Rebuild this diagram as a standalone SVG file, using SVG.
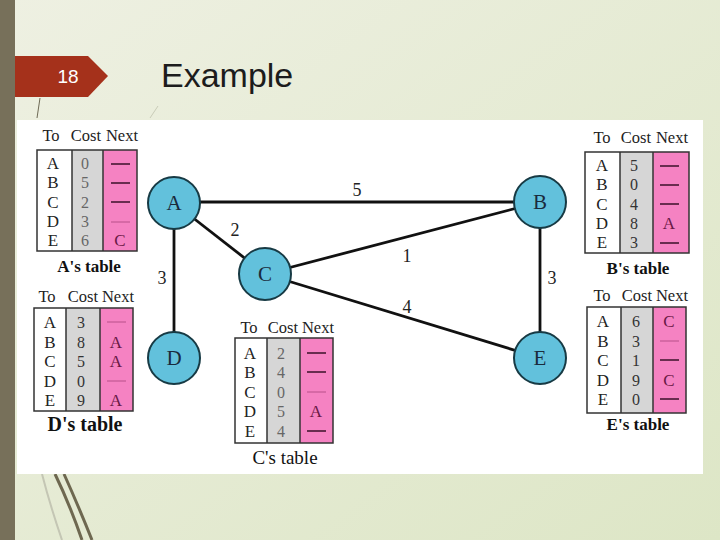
<svg xmlns="http://www.w3.org/2000/svg" width="720" height="540" viewBox="0 0 720 540">
<defs>
<linearGradient id="bg" x1="0" y1="0" x2="1" y2="1">
<stop offset="0" stop-color="#eef0e2"/>
<stop offset="1" stop-color="#dde6c6"/>
</linearGradient>
<style>
.hdr{font-family:"Liberation Serif","Times New Roman",serif;font-size:16.5px;fill:#222;text-anchor:middle}
.to{font-family:"Liberation Serif","Times New Roman",serif;font-size:17px;fill:#222;text-anchor:middle}
.cost{font-family:"Liberation Serif","Times New Roman",serif;font-size:16px;fill:#333;text-anchor:middle}
.lt{fill:#666}
.nx{font-family:"Liberation Serif","Times New Roman",serif;font-size:17px;fill:#6a1846;text-anchor:middle}
.dash{stroke:#3a1028;stroke-width:1.5}
.fdash{stroke:#b8508a;stroke-width:1}
.box{fill:none;stroke:#333;stroke-width:1.5}
.c1{fill:#ffffff}
.c2{fill:#d6d6d6}
.c3{fill:#f582c2}
.cl{stroke:#333;stroke-width:1.5}
.lbl{font-family:"Liberation Serif","Times New Roman",serif;font-size:17px;fill:#111;text-anchor:middle;font-weight:bold}
.node circle{fill:#62c1dc;stroke:#173a44;stroke-width:2}
.node text{font-family:"Liberation Serif","Times New Roman",serif;font-size:21px;fill:#1a2b3c;text-anchor:middle}
.edge{stroke:#111;stroke-width:2.8}
.w{font-family:"Liberation Serif","Times New Roman",serif;font-size:18px;fill:#222;text-anchor:middle}
</style>
</defs>
<rect x="0" y="0" width="720" height="540" fill="url(#bg)"/>
<rect x="0" y="0" width="15" height="540" fill="#77705a"/>
<g id="decor" fill="none">
<path d="M40 98 L37 118" stroke="#6e6a55" stroke-width="1"/>
<path d="M158 106 L150 118" stroke="#c9ccb8" stroke-width="1"/>
<path d="M55 474 Q70 505 82 540" stroke="#6e6850" stroke-width="3"/>
<path d="M64 474 Q78 505 92 540" stroke="#6e6850" stroke-width="3"/>
<path d="M42 474 Q50 505 62 540" stroke="#c4c6b4" stroke-width="2"/>
</g>
<g id="tag">
<path d="M15 56 L88 56 L108 76 L88 97 L15 97 Z" fill="#a5311b"/>
<text x="68" y="83" font-family="Liberation Sans,Arial,sans-serif" font-size="19" fill="#ffffff" text-anchor="middle">18</text>
</g>
<text id="title" x="161" y="87" font-family="Liberation Sans,Arial,sans-serif" font-size="34" fill="#1c1c1c">Example</text>
<rect x="17" y="120" width="686" height="354" fill="#ffffff"/>

<g id="connectors">
<line class="edge" x1="174" y1="202" x2="540" y2="202"/>
<line class="edge" x1="174" y1="203" x2="174" y2="358"/>
<line class="edge" x1="540" y1="203" x2="540" y2="358"/>
<line class="edge" x1="174" y1="203" x2="265" y2="274"/>
<line class="edge" x1="265" y1="274" x2="540" y2="202"/>
<line class="edge" x1="265" y1="274" x2="540" y2="358"/>
<text class="w" x="357" y="196">5</text>
<text class="w" x="235" y="236">2</text>
<text class="w" x="162" y="284">3</text>
<text class="w" x="407" y="262">1</text>
<text class="w" x="552" y="284">3</text>
<text class="w" x="407" y="313">4</text>
</g>

<g id="node-A" class="node"><circle cx="174" cy="203" r="26"/><text x="174" y="210">A</text></g>
<g id="node-B" class="node"><circle cx="540" cy="202" r="26"/><text x="540" y="209">B</text></g>
<g id="node-C" class="node"><circle cx="265" cy="274" r="26"/><text x="265" y="281">C</text></g>
<g id="node-D" class="node"><circle cx="174" cy="358" r="26"/><text x="174" y="365">D</text></g>
<g id="node-E" class="node"><circle cx="540" cy="358" r="26"/><text x="540" y="365">E</text></g>

<!-- A's table -->
<g id="table-A">
<text class="hdr" x="51" y="141">To</text><text class="hdr" x="86" y="141">Cost</text><text class="hdr" x="122" y="141">Next</text>
<rect class="c1" x="37" y="150" width="35" height="101"/><rect class="c2" x="72" y="150" width="31" height="101"/><rect class="c3" x="103" y="150" width="34" height="101"/>
<line class="cl" x1="72" y1="150" x2="72" y2="251"/><line class="cl" x1="103" y1="150" x2="103" y2="251"/>
<rect class="box" x="37" y="150" width="100" height="101"/>
<text class="to" x="53" y="169">A</text><text class="to" x="53" y="188">B</text><text class="to" x="53" y="208">C</text><text class="to" x="53" y="227">D</text><text class="to" x="53" y="246">E</text>
<text class="cost lt" x="85" y="169">0</text><text class="cost lt" x="85" y="188">5</text><text class="cost lt" x="85" y="208">2</text><text class="cost lt" x="85" y="227">3</text><text class="cost lt" x="85" y="246">6</text>
<line class="dash" x1="111" y1="164" x2="130" y2="164"/><line class="dash" x1="111" y1="183" x2="130" y2="183"/><line class="dash" x1="111" y1="202" x2="130" y2="202"/><line class="fdash" x1="111" y1="222" x2="130" y2="222"/>
<text class="nx" x="120" y="246">C</text>
<text class="lbl" x="89" y="272">A's table</text>
</g>

<!-- B's table -->
<g id="table-B">
<text class="hdr" x="602" y="143">To</text><text class="hdr" x="636" y="143">Cost</text><text class="hdr" x="672" y="143">Next</text>
<rect class="c1" x="585" y="152" width="35" height="101"/><rect class="c2" x="620" y="152" width="33" height="101"/><rect class="c3" x="653" y="152" width="36" height="101"/>
<line class="cl" x1="620" y1="152" x2="620" y2="253"/><line class="cl" x1="653" y1="152" x2="653" y2="253"/>
<rect class="box" x="585" y="152" width="104" height="101"/>
<text class="to" x="602" y="171">A</text><text class="to" x="602" y="190">B</text><text class="to" x="602" y="210">C</text><text class="to" x="602" y="229">D</text><text class="to" x="602" y="248">E</text>
<text class="cost" x="634" y="171">5</text><text class="cost" x="634" y="190">0</text><text class="cost" x="634" y="210">4</text><text class="cost" x="634" y="229">8</text><text class="cost" x="634" y="248">3</text>
<line class="dash" x1="660" y1="166" x2="679" y2="166"/><line class="dash" x1="660" y1="185" x2="679" y2="185"/><line class="dash" x1="660" y1="204" x2="679" y2="204"/>
<text class="nx" x="669" y="229">A</text>
<line class="dash" x1="660" y1="243" x2="679" y2="243"/>
<text class="lbl" x="638" y="274">B's table</text>
</g>

<!-- D's table -->
<g id="table-D">
<text class="hdr" x="47" y="302">To</text><text class="hdr" x="83" y="302">Cost</text><text class="hdr" x="118" y="302">Next</text>
<rect class="c1" x="34" y="308" width="32" height="103"/><rect class="c2" x="66" y="308" width="34" height="103"/><rect class="c3" x="100" y="308" width="33" height="103"/>
<line class="cl" x1="66" y1="308" x2="66" y2="411"/><line class="cl" x1="100" y1="308" x2="100" y2="411"/>
<rect class="box" x="34" y="308" width="99" height="103"/>
<text class="to" x="50" y="328">A</text><text class="to" x="50" y="348">B</text><text class="to" x="50" y="367">C</text><text class="to" x="50" y="387">D</text><text class="to" x="50" y="406">E</text>
<text class="cost" x="81" y="328">3</text><text class="cost" x="81" y="348">8</text><text class="cost" x="81" y="367">5</text><text class="cost" x="81" y="387">0</text><text class="cost" x="81" y="406">9</text>
<line class="fdash" x1="107" y1="322" x2="126" y2="322"/>
<text class="nx" x="116" y="348">A</text><text class="nx" x="116" y="367">A</text>
<line class="fdash" x1="107" y1="381" x2="126" y2="381"/>
<text class="nx" x="116" y="406">A</text>
<text class="lbl" x="85" y="431" style="font-size:20px">D's table</text>
</g>

<!-- C's table -->
<g id="table-C">
<text class="hdr" x="249" y="333">To</text><text class="hdr" x="283" y="333">Cost</text><text class="hdr" x="318" y="333">Next</text>
<rect class="c1" x="235" y="338" width="32" height="105"/><rect class="c2" x="267" y="338" width="33" height="105"/><rect class="c3" x="300" y="338" width="33" height="105"/>
<line class="cl" x1="267" y1="338" x2="267" y2="443"/><line class="cl" x1="300" y1="338" x2="300" y2="443"/>
<rect class="box" x="235" y="338" width="98" height="105"/>
<text class="to" x="250" y="359">A</text><text class="to" x="250" y="378">B</text><text class="to" x="250" y="398">C</text><text class="to" x="250" y="417">D</text><text class="to" x="250" y="437">E</text>
<text class="cost lt" x="281" y="359">2</text><text class="cost lt" x="281" y="378">4</text><text class="cost lt" x="281" y="398">0</text><text class="cost lt" x="281" y="417">5</text><text class="cost lt" x="281" y="437">4</text>
<line class="dash" x1="307" y1="353" x2="326" y2="353"/><line class="dash" x1="307" y1="372" x2="326" y2="372"/><line class="fdash" x1="307" y1="392" x2="326" y2="392"/>
<text class="nx" x="316" y="417">A</text>
<line class="dash" x1="307" y1="431" x2="326" y2="431"/>
<text class="lbl" x="285" y="464" style="font-weight:normal;font-size:19px">C's table</text>
</g>

<!-- E's table -->
<g id="table-E">
<text class="hdr" x="602" y="301">To</text><text class="hdr" x="637" y="301">Cost</text><text class="hdr" x="672" y="301">Next</text>
<rect class="c1" x="587" y="307" width="34" height="106"/><rect class="c2" x="621" y="307" width="32" height="106"/><rect class="c3" x="653" y="307" width="33" height="106"/>
<line class="cl" x1="621" y1="307" x2="621" y2="413"/><line class="cl" x1="653" y1="307" x2="653" y2="413"/>
<rect class="box" x="587" y="307" width="99" height="106"/>
<text class="to" x="603" y="327">A</text><text class="to" x="603" y="347">B</text><text class="to" x="603" y="366">C</text><text class="to" x="603" y="386">D</text><text class="to" x="603" y="405">E</text>
<text class="cost" x="636" y="327">6</text><text class="cost" x="636" y="347">3</text><text class="cost" x="636" y="366">1</text><text class="cost" x="636" y="386">9</text><text class="cost" x="636" y="405">0</text>
<text class="nx" x="669" y="327">C</text>
<line class="fdash" x1="660" y1="341" x2="679" y2="341"/><line class="dash" x1="660" y1="360" x2="679" y2="360"/>
<text class="nx" x="669" y="386">C</text>
<line class="dash" x1="660" y1="399" x2="679" y2="399"/>
<text class="lbl" x="638" y="430">E's table</text>
</g>
</svg>
